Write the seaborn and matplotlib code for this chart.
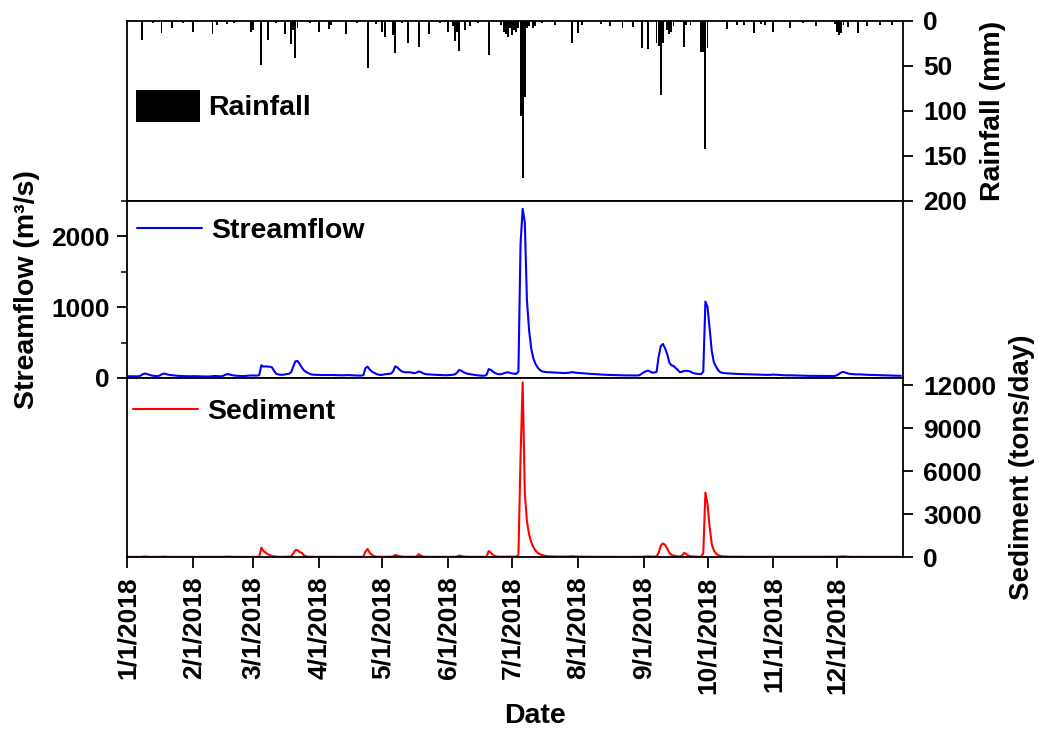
import numpy as np
import pandas as pd
import matplotlib
matplotlib.use("Agg")
import matplotlib.pyplot as plt
from matplotlib.ticker import MultipleLocator, FixedLocator
import seaborn as sns

# ---------------------------------------------------------------
# Daily series for 2018 (one line per month)
# ---------------------------------------------------------------
rain_mm = [
    0, 0, 0, 1, 0, 0, 0, 21, 0, 0, 0, 0, 2, 0, 0, 0, 13, 0, 0, 0, 0, 8, 0, 0, 0, 0, 2, 0, 0, 0, 1,  # Jan
    12.6, 0, 0, 0, 0, 0, 0, 0, 0, 14.5, 0, 4, 0, 0, 0, 0, 3, 0, 0, 2, 0, 0, 0, 0, 0, 0, 1, 12,  # Feb
    10, 0, 0, 0, 49, 0, 0, 21, 0, 0, 0, 2, 0, 0, 0, 14, 0, 0, 26, 10, 41, 8, 0, 0, 0, 0, 0, 2, 0, 0, 0,  # Mar
    12, 0, 0, 0, 0, 9, 4, 0, 0, 0, 0, 0, 0, 14, 0, 0, 0, 0, 2, 0, 0, 0, 0, 52, 0, 0, 0, 3, 0, 0,  # Apr
    12, 18, 0, 0, 0, 16, 36, 0, 0, 2, 0, 0, 24, 0, 0, 0, 0, 29, 0, 0, 0, 0, 14.5, 0, 0, 0, 0, 2, 0, 0, 0,  # May
    12, 0, 6, 22, 12, 33, 0, 0, 10, 0, 6, 0, 0, 0, 2, 0, 0, 0, 0, 38, 0, 0, 0, 0, 0, 5, 12, 14, 18, 8,  # Jun
    16, 10, 12, 8, 106, 175, 84, 8, 6, 0, 8, 6, 0, 0, 2, 0, 0, 0, 0, 0, 4, 0, 0, 0, 0, 0, 0, 0, 25, 0, 0,  # Jul
    13, 0, 4, 0, 0, 0, 0, 0, 0, 0, 0, 3, 0, 0, 0, 6, 0, 0, 0, 0, 0, 8, 0, 0, 0, 0, 7, 0, 0, 0, 30,  # Aug
    0, 0, 31, 0, 0, 0, 25, 28, 82, 25, 0, 10, 14, 12, 6, 0, 0, 0, 0, 29, 4, 0, 4, 0, 0, 0, 0, 34, 34, 142,  # Sep
    30, 0, 0, 0, 0, 0, 0, 0, 0, 9, 0, 0, 0, 0, 4, 0, 0, 4, 0, 0, 0, 0, 13, 0, 0, 3, 0, 4, 0, 0, 0,  # Oct
    12, 0, 0, 0, 0, 0, 0, 0, 8, 0, 0, 0, 0, 0, 2, 0, 0, 0, 0, 0, 6, 0, 0, 0, 0, 0, 0, 0, 0, 3,  # Nov
    12, 16, 13, 5, 0, 7, 0, 0, 0, 0, 13, 0, 0, 0, 6, 0, 0, 0, 0, 0, 4, 0, 0, 0, 0, 0, 4, 0, 0, 0, 0,  # Dec
]

streamflow_cms = [
    25, 25, 24, 24, 23, 23, 30, 50, 62, 58, 48, 38, 32, 28, 27, 32, 50, 62, 58, 48, 42, 40, 36, 32, 30, 28, 27, 26, 25, 24, 24,  # Jan
    26, 25, 24, 23, 22, 22, 21, 21, 22, 26, 28, 27, 25, 24, 30, 45, 55, 50, 42, 36, 32, 30, 28, 27, 28, 30, 33, 35,  # Feb
    36, 34, 34, 40, 180, 160, 165, 160, 160, 150, 100, 60, 50, 45, 45, 50, 55, 60, 80, 160, 235, 240, 200, 150, 110, 85, 70, 55, 48, 45, 44,  # Mar
    44, 43, 42, 42, 41, 42, 43, 42, 40, 40, 39, 38, 38, 40, 41, 40, 38, 36, 35, 34, 33, 40, 140, 160, 120, 90, 75, 58, 48, 42,  # Apr
    45, 52, 55, 58, 62, 90, 165, 150, 120, 95, 85, 80, 82, 80, 75, 68, 75, 92, 85, 68, 58, 52, 50, 48, 46, 44, 43, 42, 40, 39, 38,  # May
    40, 42, 45, 50, 70, 112, 105, 85, 70, 60, 55, 50, 45, 40, 36, 34, 32, 32, 45, 125, 115, 90, 70, 58, 52, 55, 65, 75, 80, 72,  # Jun
    65, 60, 58, 90, 1900, 2390, 2200, 1100, 680, 420, 280, 200, 150, 115, 95, 88, 84, 82, 80, 78, 76, 75, 74, 72, 71, 70, 72, 75, 82, 80, 74,  # Jul
    72, 70, 68, 65, 62, 60, 58, 56, 54, 52, 50, 48, 46, 45, 44, 43, 42, 41, 40, 39, 38, 38, 37, 37, 36, 36, 36, 35, 36, 40, 60,  # Aug
    80, 95, 105, 90, 75, 78, 85, 300, 450, 480, 420, 340, 220, 180, 170, 140, 115, 80, 88, 100, 102, 98, 90, 72, 64, 60, 56, 55, 90, 1080,  # Sep
    1000, 700, 380, 220, 160, 110, 82, 72, 68, 66, 64, 62, 60, 58, 57, 56, 55, 54, 53, 52, 50, 49, 50, 49, 48, 47, 46, 45, 44, 44, 45,  # Oct
    48, 46, 44, 42, 40, 39, 38, 37, 38, 37, 36, 35, 34, 33, 32, 32, 31, 30, 30, 30, 31, 30, 29, 29, 28, 28, 28, 28, 28, 30,  # Nov
    40, 60, 80, 85, 75, 65, 58, 55, 52, 50, 52, 50, 48, 46, 45, 44, 43, 42, 40, 40, 39, 38, 37, 36, 35, 34, 34, 33, 32, 32, 31,  # Dec
]

sediment_tpd = [
    10, 10, 10, 10, 10, 10, 12, 20, 35, 25, 15, 12, 10, 10, 10, 12, 20, 30, 20, 14, 12, 10, 10, 10, 10, 10, 10, 10, 10, 10, 10,  # Jan
    10, 10, 10, 10, 10, 10, 10, 10, 10, 10, 10, 10, 10, 10, 12, 20, 35, 25, 15, 12, 10, 10, 10, 10, 10, 10, 10, 12,  # Feb
    12, 12, 12, 15, 650, 420, 300, 200, 130, 70, 40, 25, 18, 15, 15, 18, 22, 30, 40, 260, 470, 490, 340, 300, 120, 50, 25, 18, 15, 14, 14,  # Mar
    14, 14, 13, 13, 13, 13, 13, 13, 12, 12, 12, 12, 12, 12, 12, 12, 12, 12, 12, 12, 12, 30, 380, 560, 300, 150, 60, 30, 20, 15,  # Apr
    15, 18, 20, 20, 25, 40, 140, 110, 60, 30, 22, 20, 22, 20, 18, 16, 20, 200, 110, 40, 22, 18, 16, 15, 14, 14, 13, 13, 12, 12, 12,  # May
    12, 13, 14, 16, 25, 100, 80, 40, 25, 18, 15, 14, 13, 12, 12, 12, 12, 12, 20, 420, 300, 150, 70, 30, 20, 20, 25, 30, 32, 28,  # Jun
    25, 22, 20, 150, 7000, 12200, 4500, 2500, 1600, 1050, 700, 450, 300, 200, 140, 100, 70, 55, 45, 40, 38, 36, 34, 32, 30, 30, 32, 40, 60, 45, 35,  # Jul
    30, 28, 26, 24, 22, 20, 19, 18, 17, 16, 15, 15, 14, 14, 14, 13, 13, 13, 12, 12, 12, 12, 12, 12, 12, 12, 12, 12, 12, 14, 20,  # Aug
    30, 40, 45, 35, 28, 30, 40, 300, 800, 950, 850, 600, 300, 150, 100, 70, 50, 40, 100, 300, 200, 100, 60, 40, 30, 25, 22, 20, 250, 4500,  # Sep
    3700, 2100, 900, 450, 250, 130, 80, 50, 40, 30, 26, 24, 22, 20, 19, 18, 17, 16, 16, 15, 15, 14, 14, 14, 14, 13, 13, 13, 13, 13, 13,  # Oct
    14, 13, 13, 13, 12, 12, 12, 12, 12, 12, 12, 12, 12, 12, 12, 12, 12, 12, 12, 12, 12, 12, 12, 12, 12, 12, 12, 12, 12, 12,  # Nov
    14, 20, 40, 50, 35, 22, 16, 14, 13, 13, 13, 13, 12, 12, 12, 12, 12, 12, 12, 12, 12, 12, 12, 12, 12, 12, 12, 12, 12, 12, 12,  # Dec
]

month_tick_labels = ["1/1/2018", "2/1/2018", "3/1/2018", "4/1/2018", "5/1/2018", "6/1/2018",
                     "7/1/2018", "8/1/2018", "9/1/2018", "10/1/2018", "11/1/2018", "12/1/2018"]
rain_ticks = [0, 50, 100, 150, 200]
flow_ticks = [0, 1000, 2000]
sediment_ticks = [0, 3000, 6000, 9000, 12000]

assert len(rain_mm) == len(streamflow_cms) == len(sediment_tpd) == 365

dates = pd.date_range("2018-01-01", periods=365, freq="D")
df = pd.DataFrame({"Date": dates, "Rainfall": rain_mm,
                   "Streamflow": streamflow_cms, "Sediment": sediment_tpd})

# ---------------------------------------------------------------
# Style
# ---------------------------------------------------------------
sns.set_theme(style="ticks")
plt.rcParams.update({
    "font.family": ["Liberation Sans", "DejaVu Sans"],
    "font.weight": "bold",
    "axes.labelweight": "bold",
    "font.size": 19,
    "text.color": "black",
    "axes.labelcolor": "black",
    "axes.linewidth": 1.3,
    "axes.edgecolor": "black",
    "xtick.color": "black",
    "ytick.color": "black",
    "xtick.labelcolor": "black",
    "ytick.labelcolor": "black",
    "xtick.direction": "out",
    "ytick.direction": "out",
    "xtick.major.size": 8,
    "ytick.major.size": 7.5,
    "ytick.minor.size": 4,
    "xtick.major.width": 1.3,
    "ytick.major.width": 1.3,
    "ytick.minor.width": 1.1,
    "xtick.labelsize": 19,
    "ytick.labelsize": 19,
})

LABEL_SIZE = 20.5
LEGEND_SIZE = 20.5

fig = plt.figure(figsize=(10.39, 7.29), dpi=100)
left, width = 0.1227, 0.7464
ax_rain = fig.add_axes([left, 0.7243, width, 0.2469])
ax_flow = fig.add_axes([left, 0.4815, width, 0.2428])
ax_sed = fig.add_axes([left, 0.2359, width, 0.2455])

x_start, x_end = pd.Timestamp("2018-01-01"), pd.Timestamp("2019-01-01")
tick_dates = pd.to_datetime(month_tick_labels, format="%m/%d/%Y")

# ---- Rainfall (hanging bars on an inverted axis) ----
ax_rain.bar(df["Date"], df["Rainfall"], width=0.9, color="black",
            linewidth=0, label="Rainfall")
ax_rain.set_ylim(200, 0)
ax_rain.set_xlim(x_start, x_end)
ax_rain.yaxis.tick_right()
ax_rain.yaxis.set_label_position("right")
ax_rain.yaxis.set_major_locator(FixedLocator(rain_ticks))
ax_rain.set_yticklabels([str(t) for t in rain_ticks])
ax_rain.tick_params(axis="y", pad=7)
ax_rain.tick_params(axis="x", which="both", bottom=False, labelbottom=False)
ax_rain.set_xlabel("")
ax_rain.set_ylabel("Rainfall (mm)", fontsize=LABEL_SIZE)
ax_rain.yaxis.set_label_coords(1.099, 0.5)
ax_rain.legend(loc="center left", bbox_to_anchor=(0.011, 0.528), frameon=False,
               fontsize=LEGEND_SIZE, handlelength=2.25, handleheight=1.35,
               handletextpad=0.3, borderpad=0, borderaxespad=0)

# ---- Streamflow ----
sns.lineplot(data=df, x="Date", y="Streamflow", ax=ax_flow, color="#0000ff",
             linewidth=1.5, label="Streamflow")
ax_flow.set_ylim(0, 2500)
ax_flow.set_xlim(x_start, x_end)
ax_flow.yaxis.set_major_locator(FixedLocator(flow_ticks))
ax_flow.set_yticklabels([str(t) for t in flow_ticks])
ax_flow.yaxis.set_minor_locator(MultipleLocator(500))
ax_flow.tick_params(axis="y", which="both", right=False, pad=5)
ax_flow.tick_params(axis="x", which="both", bottom=False, labelbottom=False)
ax_flow.set_xlabel("")
ax_flow.set_ylabel("Streamflow (m³/s)", fontsize=LABEL_SIZE)
ax_flow.yaxis.set_label_coords(-0.113, 0.5)
ax_flow.legend(loc="center left", bbox_to_anchor=(0.012, 0.83), frameon=False,
               fontsize=LEGEND_SIZE, handlelength=2.3, handletextpad=0.3,
               borderpad=0, borderaxespad=0)

# ---- Sediment ----
sns.lineplot(data=df, x="Date", y="Sediment", ax=ax_sed, color="#ff0000",
             linewidth=1.5, label="Sediment")
ax_sed.set_ylim(0, 12500)
ax_sed.set_xlim(x_start, x_end)
ax_sed.yaxis.tick_right()
ax_sed.yaxis.set_label_position("right")
ax_sed.yaxis.set_major_locator(FixedLocator(sediment_ticks))
ax_sed.set_yticklabels([str(t) for t in sediment_ticks])
ax_sed.tick_params(axis="y", pad=7)
ax_sed.set_xticks(tick_dates)
ax_sed.set_xticklabels(month_tick_labels, rotation=90)
ax_sed.tick_params(axis="x", pad=6)
ax_sed.set_ylabel("Sediment (tons/day)", fontsize=20)
ax_sed.yaxis.set_label_coords(1.137, 0.5)
ax_sed.set_xlabel("Date", fontsize=LABEL_SIZE)
ax_sed.xaxis.set_label_coords(0.526, -0.815)
ax_sed.legend(loc="center left", bbox_to_anchor=(0.007, 0.81), frameon=False,
              fontsize=LEGEND_SIZE, handlelength=2.3, handletextpad=0.3,
              borderpad=0, borderaxespad=0)

for ax in (ax_rain, ax_flow, ax_sed):
    for side in ("top", "bottom", "left", "right"):
        ax.spines[side].set_visible(True)
        ax.spines[side].set_color("black")
        ax.spines[side].set_linewidth(1.3)
    leg = ax.get_legend()
    if leg is not None:
        for txt in leg.get_texts():
            txt.set_color("black")

fig.savefig("out.png", dpi=100, facecolor="white")
